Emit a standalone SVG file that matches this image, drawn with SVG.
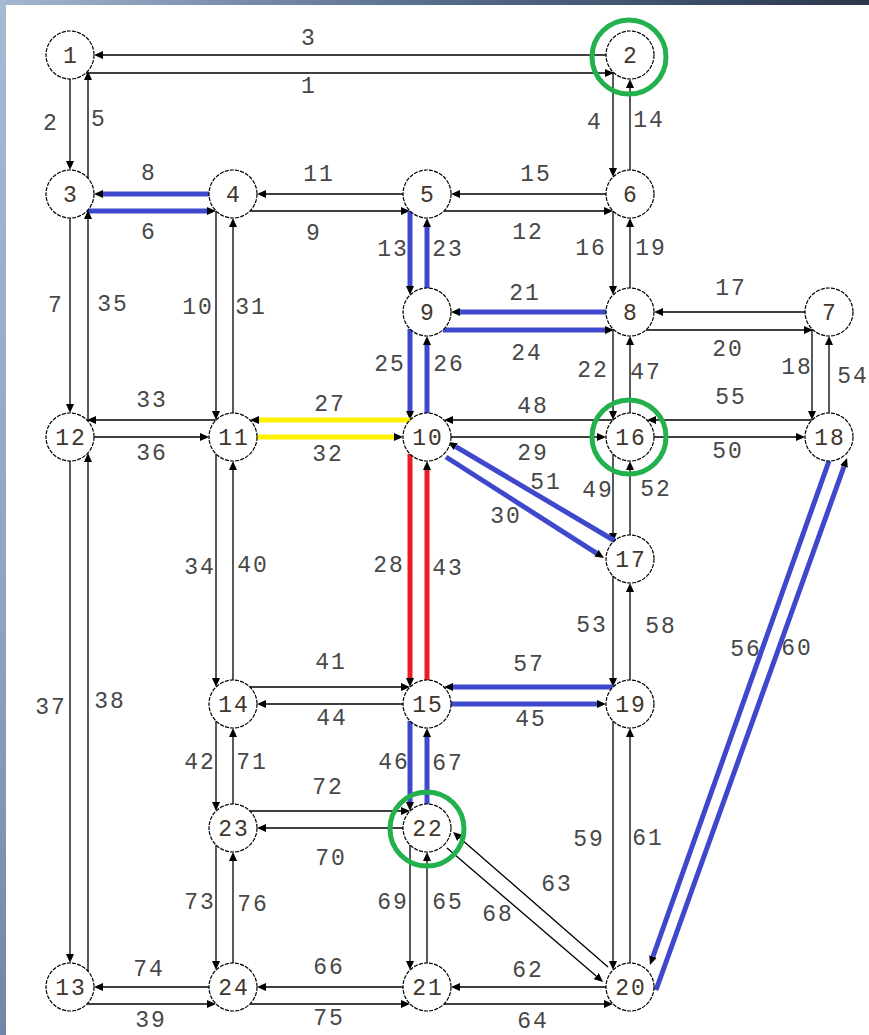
<svg xmlns="http://www.w3.org/2000/svg" width="869" height="1035" viewBox="0 0 869 1035">
<defs>
<linearGradient id="gTop" x1="0" y1="0" x2="1" y2="0">
<stop offset="0" stop-color="#a4b6d0"/><stop offset="0.5" stop-color="#566c8c"/><stop offset="1" stop-color="#2a374c"/>
</linearGradient>
<linearGradient id="gLeft" x1="0" y1="0" x2="0" y2="1">
<stop offset="0" stop-color="#a8b9d2"/><stop offset="0.6" stop-color="#8ea3c2"/><stop offset="1" stop-color="#6f86a8"/>
</linearGradient>
<marker id="ah" viewBox="0 0 9 8" refX="0" refY="4" markerWidth="9" markerHeight="8" markerUnits="userSpaceOnUse" orient="auto">
<path d="M0,0L9,4L0,8z" fill="#000"/>
</marker>
</defs>
<style>
.c line{stroke:#000;stroke-width:1.3;fill:none;marker-end:url(#ah)}
.c line.b{stroke:#3f48cc;stroke-width:5}
.c line.y{stroke:#fff200;stroke-width:5}
.c line.r{stroke:#ed1c24;stroke-width:5}
.c text{font-family:"Liberation Mono","DejaVu Sans Mono",monospace;font-size:23px;fill:#484848;text-anchor:middle;letter-spacing:2px}
.n circle{fill:#fff;stroke:#000;stroke-width:1.2;stroke-dasharray:4 1.2}
.n text{font-family:"Liberation Mono","DejaVu Sans Mono",monospace;font-size:23px;fill:#43362c;text-anchor:middle;letter-spacing:2px}
.g{fill:none;stroke:#22b14c;stroke-width:5}
</style>
<rect x="0" y="0" width="869" height="1035" fill="#fff"/>
<rect x="0" y="0" width="869" height="5" fill="url(#gTop)"/>
<rect x="0" y="0" width="6" height="1035" fill="url(#gLeft)"/>

<g id="connectors" class="c">
<g id="e1"><line x1="86" y1="73" x2="605" y2="73"/><text x="309" y="93">1</text></g>
<g id="e2"><line x1="70" y1="79" x2="70" y2="161"/><text x="51" y="130">2</text></g>
<g id="e3"><line x1="606" y1="55" x2="103" y2="55"/><text x="309" y="45">3</text></g>
<g id="e4"><line x1="613" y1="72" x2="613" y2="168"/><text x="595" y="129">4</text></g>
<g id="e5"><line x1="88" y1="178" x2="88" y2="80"/><text x="99" y="126">5</text></g>
<g id="e6"><line class="b" x1="87" y1="211" x2="207" y2="211"/><text x="149" y="239">6</text></g>
<g id="e7"><line x1="70" y1="218" x2="70" y2="404"/><text x="56" y="312">7</text></g>
<g id="e8"><line class="b" x1="209" y1="194" x2="103" y2="194"/><text x="149" y="180">8</text></g>
<g id="e9"><line x1="250" y1="211" x2="401" y2="211"/><text x="314" y="240">9</text></g>
<g id="e10"><line x1="216" y1="211" x2="216" y2="411"/><text x="198" y="314">10</text></g>
<g id="e11"><line x1="403" y1="194" x2="266" y2="194"/><text x="319" y="181">11</text></g>
<g id="e12"><line x1="444" y1="211" x2="604" y2="211"/><text x="528" y="239">12</text></g>
<g id="e13"><line class="b" x1="410" y1="211" x2="410" y2="286"/><text x="393" y="256">13</text></g>
<g id="e14"><line x1="630" y1="170" x2="630" y2="88"/><text x="649" y="127">14</text></g>
<g id="e15"><line x1="606" y1="194" x2="460" y2="194"/><text x="536" y="181">15</text></g>
<g id="e16"><line x1="613" y1="211" x2="613" y2="286"/><text x="591" y="255">16</text></g>
<g id="e17"><line x1="805" y1="312" x2="663" y2="312"/><text x="731" y="295">17</text></g>
<g id="e18"><line x1="812" y1="329" x2="812" y2="411"/><text x="797" y="374">18</text></g>
<g id="e19"><line x1="630" y1="288" x2="630" y2="227"/><text x="651" y="255">19</text></g>
<g id="e20"><line x1="646" y1="330" x2="804" y2="330"/><text x="728" y="356">20</text></g>
<g id="e21"><line class="b" x1="606" y1="312" x2="460" y2="312"/><text x="525" y="300">21</text></g>
<g id="e22"><line x1="613" y1="329" x2="613" y2="411"/><text x="593" y="377">22</text></g>
<g id="e23"><line class="b" x1="427" y1="288" x2="427" y2="227"/><text x="448" y="256">23</text></g>
<g id="e24"><line class="b" x1="443" y1="330" x2="605" y2="330"/><text x="527" y="360">24</text></g>
<g id="e25"><line class="b" x1="410" y1="329" x2="410" y2="411"/><text x="390" y="371">25</text></g>
<g id="e26"><line class="b" x1="427" y1="413" x2="427" y2="345"/><text x="449" y="371">26</text></g>
<g id="e27"><line class="y" x1="410" y1="420" x2="259" y2="420"/><text x="330" y="411">27</text></g>
<g id="e28"><line class="r" x1="410" y1="454" x2="410" y2="678"/><text x="389" y="572">28</text></g>
<g id="e29"><line x1="451" y1="437" x2="597" y2="437"/><text x="533" y="460">29</text></g>
<g id="e30"><line class="b" x1="446" y1="457" x2="596.4" y2="553.1"/><text x="506" y="523">30</text></g>
<g id="e31"><line x1="233" y1="413" x2="233" y2="227"/><text x="251" y="314">31</text></g>
<g id="e32"><line class="y" x1="257" y1="437" x2="394" y2="437"/><text x="328" y="461">32</text></g>
<g id="e33"><line x1="216" y1="420" x2="96" y2="420"/><text x="152" y="407">33</text></g>
<g id="e34"><line x1="216" y1="454" x2="216" y2="678"/><text x="200" y="574">34</text></g>
<g id="e35"><line x1="88" y1="421" x2="88" y2="219"/><text x="113" y="311">35</text></g>
<g id="e36"><line x1="94" y1="437" x2="200" y2="437"/><text x="152" y="460">36</text></g>
<g id="e37"><line x1="70" y1="461" x2="70" y2="954"/><text x="51" y="714">37</text></g>
<g id="e38"><line x1="88" y1="971" x2="88" y2="462"/><text x="110" y="708">38</text></g>
<g id="e39"><line x1="87" y1="1004" x2="207" y2="1004"/><text x="151" y="1027">39</text></g>
<g id="e40"><line x1="233" y1="680" x2="233" y2="470"/><text x="253" y="572">40</text></g>
<g id="e41"><line x1="250" y1="687" x2="401" y2="687"/><text x="331" y="669">41</text></g>
<g id="e42"><line x1="216" y1="721" x2="216" y2="802"/><text x="200" y="769">42</text></g>
<g id="e43"><line class="r" x1="427" y1="680" x2="427" y2="470"/><text x="448" y="575">43</text></g>
<g id="e44"><line x1="403" y1="704" x2="266" y2="704"/><text x="332" y="725">44</text></g>
<g id="e45"><line class="b" x1="451" y1="704" x2="597" y2="704"/><text x="531" y="726">45</text></g>
<g id="e46"><line class="b" x1="410" y1="721" x2="410" y2="802"/><text x="394" y="769">46</text></g>
<g id="e47"><line x1="630" y1="413" x2="630" y2="345"/><text x="646" y="379">47</text></g>
<g id="e48"><line x1="613" y1="420" x2="453" y2="420"/><text x="533" y="413">48</text></g>
<g id="e49"><line x1="613" y1="454" x2="613" y2="533"/><text x="598" y="497">49</text></g>
<g id="e50"><line x1="654" y1="437" x2="796" y2="437"/><text x="728" y="458">50</text></g>
<g id="e51"><line class="b" x1="615" y1="541" x2="455.7" y2="446.6"/><text x="546" y="489">51</text></g>
<g id="e52"><line x1="630" y1="535" x2="630" y2="470"/><text x="656" y="496">52</text></g>
<g id="e53"><line x1="613" y1="576" x2="613" y2="678"/><text x="592" y="632">53</text></g>
<g id="e54"><line x1="829" y1="413" x2="829" y2="345"/><text x="853" y="383">54</text></g>
<g id="e55"><line x1="812" y1="420" x2="656" y2="420"/><text x="731" y="404">55</text></g>
<g id="e56"><line class="b" x1="829" y1="461" x2="653" y2="956.5"/><text x="746" y="656">56</text></g>
<g id="e57"><line class="b" x1="613" y1="687" x2="453" y2="687"/><text x="529" y="671">57</text></g>
<g id="e58"><line x1="630" y1="680" x2="630" y2="592"/><text x="661" y="633">58</text></g>
<g id="e59"><line x1="613" y1="721" x2="613" y2="961"/><text x="589" y="846">59</text></g>
<g id="e60"><line class="b" x1="656" y1="990" x2="844" y2="466.5"/><text x="797" y="655">60</text></g>
<g id="e61"><line x1="630" y1="963" x2="630" y2="737"/><text x="648" y="845">61</text></g>
<g id="e62"><line x1="606" y1="987" x2="460" y2="987"/><text x="528" y="977">62</text></g>
<g id="e63"><line x1="608" y1="967" x2="459.8" y2="837.9"/><text x="557" y="891">63</text></g>
<g id="e64"><line x1="444" y1="1004" x2="604" y2="1004"/><text x="533" y="1028">64</text></g>
<g id="e65"><line x1="427" y1="963" x2="427" y2="861"/><text x="448" y="909">65</text></g>
<g id="e66"><line x1="403" y1="987" x2="266" y2="987"/><text x="329" y="974">66</text></g>
<g id="e67"><line class="b" x1="427" y1="804" x2="427" y2="737"/><text x="448" y="770">67</text></g>
<g id="e68"><line x1="447" y1="848" x2="596.2" y2="976.1"/><text x="498" y="921">68</text></g>
<g id="e69"><line x1="410" y1="845" x2="410" y2="961"/><text x="393" y="909">69</text></g>
<g id="e70"><line x1="403" y1="828" x2="266" y2="828"/><text x="331" y="865">70</text></g>
<g id="e71"><line x1="233" y1="804" x2="233" y2="737"/><text x="252" y="769">71</text></g>
<g id="e72"><line x1="250" y1="811" x2="401" y2="811"/><text x="328" y="794">72</text></g>
<g id="e73"><line x1="216" y1="845" x2="216" y2="961"/><text x="200" y="909">73</text></g>
<g id="e74"><line x1="209" y1="987" x2="103" y2="987"/><text x="149" y="976">74</text></g>
<g id="e75"><line x1="250" y1="1004" x2="401" y2="1004"/><text x="329" y="1025">75</text></g>
<g id="e76"><line x1="233" y1="963" x2="233" y2="861"/><text x="253" y="911">76</text></g>
</g>

<g id="nodes" class="n">
<g id="n1"><circle cx="70" cy="55" r="24"/><text x="71" y="63">1</text></g>
<g id="n2"><circle cx="630" cy="55" r="24"/><text x="631" y="63">2</text></g>
<g id="n3"><circle cx="70" cy="194" r="24"/><text x="71" y="202">3</text></g>
<g id="n4"><circle cx="233" cy="194" r="24"/><text x="234" y="202">4</text></g>
<g id="n5"><circle cx="427" cy="194" r="24"/><text x="428" y="202">5</text></g>
<g id="n6"><circle cx="630" cy="194" r="24"/><text x="631" y="202">6</text></g>
<g id="n7"><circle cx="829" cy="312" r="24"/><text x="830" y="320">7</text></g>
<g id="n8"><circle cx="630" cy="312" r="24"/><text x="631" y="320">8</text></g>
<g id="n9"><circle cx="427" cy="312" r="24"/><text x="428" y="320">9</text></g>
<g id="n10"><circle cx="427" cy="437" r="24"/><text x="428" y="445">10</text></g>
<g id="n11"><circle cx="233" cy="437" r="24"/><text x="234" y="445">11</text></g>
<g id="n12"><circle cx="70" cy="437" r="24"/><text x="71" y="445">12</text></g>
<g id="n13"><circle cx="70" cy="987" r="24"/><text x="71" y="995">13</text></g>
<g id="n14"><circle cx="233" cy="704" r="24"/><text x="234" y="712">14</text></g>
<g id="n15"><circle cx="427" cy="704" r="24"/><text x="428" y="712">15</text></g>
<g id="n16"><circle cx="630" cy="437" r="24"/><text x="631" y="445">16</text></g>
<g id="n17"><circle cx="630" cy="559" r="24"/><text x="631" y="567">17</text></g>
<g id="n18"><circle cx="829" cy="437" r="24"/><text x="830" y="445">18</text></g>
<g id="n19"><circle cx="630" cy="704" r="24"/><text x="631" y="712">19</text></g>
<g id="n20"><circle cx="630" cy="987" r="24"/><text x="631" y="995">20</text></g>
<g id="n21"><circle cx="427" cy="987" r="24"/><text x="428" y="995">21</text></g>
<g id="n22"><circle cx="427" cy="828" r="24"/><text x="428" y="836">22</text></g>
<g id="n23"><circle cx="233" cy="828" r="24"/><text x="234" y="836">23</text></g>
<g id="n24"><circle cx="233" cy="987" r="24"/><text x="234" y="995">24</text></g>
</g>

<g id="highlights">
<circle class="g" cx="629" cy="57" r="37"/>
<circle class="g" cx="629" cy="437" r="37"/>
<circle class="g" cx="427" cy="829" r="37"/>
</g>
</svg>
